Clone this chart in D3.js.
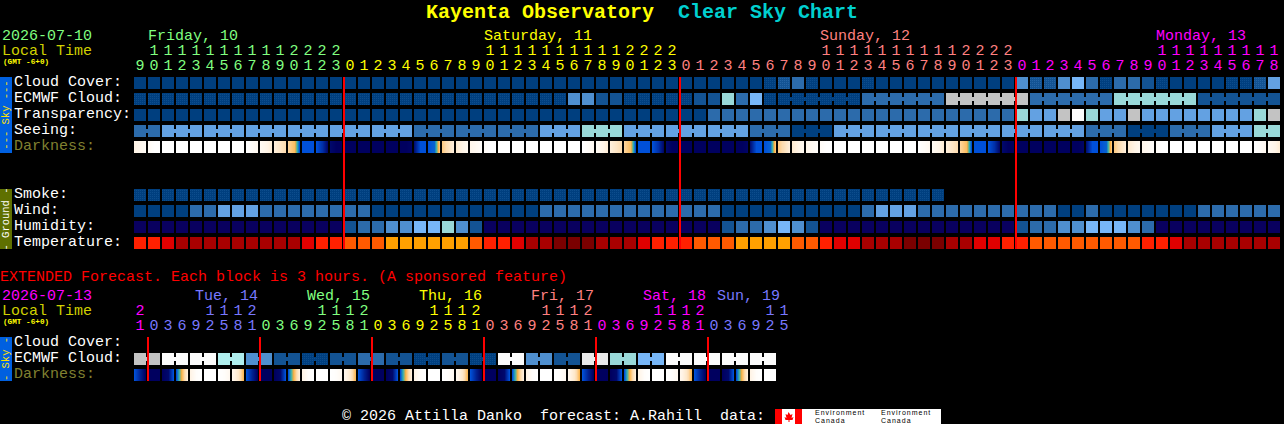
<!DOCTYPE html>
<html>
<head>
<meta charset="utf-8">
<script src="https://cdn.jsdelivr.net/npm/d3@7"></script>
<style>
html, body { margin: 0; padding: 0; background: #000; overflow: hidden; }
text { font-family: "Liberation Mono", monospace; white-space: pre; }
</style>
</head>
<body>
<div id="chart"></div>
<script>
// Hours under each column.
var hours = [9,10,11,12,13,14,15,16,17,18,19,20,21,22,23,
    0,1,2,3,4,5,6,7,8,9,10,11,12,13,14,15,16,17,18,19,20,21,22,23,
    0,1,2,3,4,5,6,7,8,9,10,11,12,13,14,15,16,17,18,19,20,21,22,23,
    0,1,2,3,4,5,6,7,8,9,10,11,12,13,14,15,16,17,18];
var hourDays = [0,0,0,0,0,0,0,0,0,0,0,0,0,0,0,
    1,1,1,1,1,1,1,1,1,1,1,1,1,1,1,1,1,1,1,1,1,1,1,1,
    2,2,2,2,2,2,2,2,2,2,2,2,2,2,2,2,2,2,2,2,2,2,2,2,
    3,3,3,3,3,3,3,3,3,3,3,3,3,3,3,3,3,3,3];
var dayNames = ['Friday, 10', 'Saturday, 11', 'Sunday, 12', 'Monday, 13'];
var dayCols = [1, 25, 49, 73];
var dayColors = ['#80ff80', '#ffff00', '#ff8080', '#ff00ff'];
var midnightCols = [15, 39, 63];

var extHours = [21,0,3,6,9,12,15,18,21,0,3,6,9,12,15,18,21,0,3,6,9,12,15,18,21,
    0,3,6,9,12,15,18,21,0,3,6,9,12,15,18,21,0,3,6,9,12,15];
var extDays = [0,1,1,1,1,1,1,1,1,2,2,2,2,2,2,2,2,3,3,3,3,3,3,3,3,
    4,4,4,4,4,4,4,4,5,5,5,5,5,5,5,5,6,6,6,6,6,6];
var extDayNames = ['', 'Tue, 14', 'Wed, 15', 'Thu, 16', 'Fri, 17', 'Sat, 18', 'Sun, 19'];
var extDayCols = [0, 4.36, 12.36, 20.36, 28.36, 36.36, 41.64];
var extDayColors = ['#ff00ff', '#7878ff', '#80ff80', '#ffff00', '#ff8080', '#ff00ff', '#7878ff'];
var extMidnightCols = [1, 9, 17, 25, 33, 41];

// Levels index into skyColors, .5 is a dither of two neighbours.
var cloudCover = [0,0,0,0,0,0,0,0,0,0,0,0,0,0,0,
    0,0,0,0,0,0,0,0,0,0,0,0,0,0,0,0,0,0,0,0,0,0,0,0,
    0,0,0,0,0,0,.5,1.5,2,.5,0,0,0,.5,0,0,0,0,0,0,0,0,0,0,
    3,1.5,1.5,3,5,2,.5,2,2,1,.5,0,0,0,0,.5,.5,1.5,4];
var ecmwfCloud = [.5,.5,.5,.5,.5,.5,.5,.5,.5,.5,.5,.5,.5,.5,.5,
    .5,.5,.5,.5,.5,.5,.5,.5,.5,.5,.5,.5,.5,.5,.5,.5,3,3,1,1,.5,.5,.5,.5,
    .5,1,1,6,2,5,.5,.5,.5,.5,.5,.5,.5,2,2,2,2,2,2,8,8,8,8,8,8,
    2,2,2,2,2,2,6,6,6,6,6,6,1,1,1,1,1,1];
var transparency = [0,0,0,0,0,0,0,0,0,0,0,0,0,0,0,
    0,0,0,0,0,0,0,0,0,0,0,0,0,0,0,0,0,0,0,0,0,0,0,0,
    0,0,2,2,2,2,2,2,2,2,2,2,2,2,2,2,2,2,2,2,2,2,2,2,
    6,4,4,8,10,6,4,4,8,4,4,4,4,4,4,4,4,6,8];
var seeing = [2,2,4,4,4,4,4,4,4,4,4,4,4,4,4,
    4,4,4,4,4,2,2,2,2,2,2,2,2,2,4,4,4,6,6,6,4,4,4,4,
    4,4,4,4,4,2,2,2,0,0,0,4,4,4,4,4,4,4,4,4,4,4,4,4,
    4,4,4,4,4,2,2,2,0,0,0,2,2,2,4,4,4,6,6];
var smoke = [.5,.5,.5,.5,.5,.5,.5,.5,.5,.5,.5,.5,.5,.5,.5,
    .5,.5,.5,.5,.5,.5,.5,.5,.5,.5,.5,.5,.5,.5,.5,.5,.5,.5,.5,.5,.5,.5,.5,.5,
    .5,.5,.5,.5,.5,.5,.5,.5,.5,.5,.5,.5,.5,.5,.5,.5,.5,.5,.5];
var wind = [0,0,0,0,2,2,4,4,4,2,2,2,2,2,2,
    2,2,0,0,0,0,0,0,0,0,0,0,0,0,2,2,2,2,2,2,2,2,2,2,
    2,2,2,0,0,0,0,0,0,0,0,0,0,2,4,4,4,2,2,2,2,2,2,2,
    2,2,2,0,0,2,0,0,0,0,0,0,0,2,2,2,2,2,2];
var humidity = [-1,-1,-1,-1,-1,-1,-1,-1,-1,-1,-1,-1,-1,-1,-1,
    1,2,2,3,3,5,5,6,3,1,-1,-1,-1,-1,-1,-1,-1,-1,-1,-1,-1,-1,-1,-1,
    -1,-1,-1,1,2,2,3,5,3,1,-1,-1,-1,-1,-1,-1,-1,-1,-1,-1,-1,-1,-1,-1,
    1,2,2,3,3,5,5,5,3,2,-1,-1,-1,-1,-1,-1,-1,-1,-1];
var temperature = [3,3,2,1,1,1,1,1,1,1,1,1,2,3,3,
    4,4,4,5,5,5,5,5,5,4,3,3,2,1,1,0,0,0,1,1,1,2,3,3,
    3,4,4,4,5,5,5,5,4,4,3,2,2,1,1,1,0,0,0,1,1,2,2,3,
    3,4,4,4,4,4,4,4,4,3,3,2,1,1,1,1,1,1,1];

// Daylight at the start, middle and end of each block.
var darkness = [
    [5,5.3,5.6],[5.6,6,6],[6,6,6],[6,6,6],[6,6,6],[6,6,6],[6,6,6],[6,6,6],
    [6,5.7,5.4],[5.5,5.1,4.7],[4.8,4.4,4],[3.8,3.3,1],[1,1,1],[1,.6,.1],[.1,0,0],
    [0,0,0],[0,0,0],[0,0,0],[0,0,0],[0,0,.05],[.2,1,1],[1,1.2,3.5],[3.6,4.2,4.8],[4.6,5,5.4],
    [5.2,5.5,5.8],[5.7,6,6],[6,6,6],[6,6,6],[6,6,6],[6,6,6],[6,6,6],[6,6,6],
    [6,5.7,5.4],[5.5,5.1,4.7],[4.8,4.4,4],[3.8,3.3,1],[1,1,1],[1,.6,.1],[.1,0,0],
    [0,0,0],[0,0,0],[0,0,0],[0,0,0],[0,0,.05],[.2,1,1],[1,1.2,3.5],[3.6,4.2,4.8],[4.6,5,5.4],
    [5.2,5.5,5.8],[5.7,6,6],[6,6,6],[6,6,6],[6,6,6],[6,6,6],[6,6,6],[6,6,6],
    [6,5.7,5.4],[5.5,5.1,4.7],[4.8,4.4,4],[3.8,3.3,1],[1,1,1],[1,.6,.1],[.1,0,0],
    [0,0,0],[0,0,0],[0,0,0],[0,0,0],[0,0,.05],[.2,1,1],[1,1.2,3.5],[3.6,4.2,4.8],[4.6,5,5.4],
    [5.2,5.5,5.8],[5.7,6,6],[6,6,6],[6,6,6],[6,6,6],[6,6,6],[6,6,6],[6,6,6],
    [6,5.7,5.4],[5.5,5.1,4.7]
];
var extCloud = [8,8,10,10,10,10,7,7,3,3,1,1,.5,.5,1,1,2,2,1,1,.5,.5,1,1,.5,.5,
    10,10,3,3,1,1,9,9,6,6,5,5,10,10,10,10,10,10,10,10];
var extDarkness = [
    [1,.4,0],[0,0,0],[0,.1,1],[1,3.3,4.8],[5,5.8,6],[6,6,6],[6,5.8,5.4],[5.2,4.5,3.2],
    [1,.4,0],[0,0,0],[0,.1,1],[1,3.3,4.8],[5,5.8,6],[6,6,6],[6,5.8,5.4],[5.2,4.5,3.2],
    [1,.4,0],[0,0,0],[0,.1,1],[1,3.3,4.8],[5,5.8,6],[6,6,6],[6,5.8,5.4],[5.2,4.5,3.2],
    [1,.4,0],[0,0,0],[0,.1,1],[1,3.3,4.8],[5,5.8,6],[6,6,6],[6,5.8,5.4],[5.2,4.5,3.2],
    [1,.4,0],[0,0,0],[0,.1,1],[1,3.3,4.8],[5,5.8,6],[6,6,6],[6,5.8,5.4],[5.2,4.5,3.2],
    [1,.4,0],[0,0,0],[0,.1,1],[1,3.3,4.8],[5,5.8,6],[6,6,6]
];

var skyColors = ['#003f7f', '#135393', '#2c6bab', '#4f8fcf', '#63a1e2', '#77b6f7',
    '#99d8d8', '#afeeee', '#c3c3c3', '#e9e9e9', '#fbfbfb'];
var humidityNone = '#09005f';
var temperatureColors = ['#7a0000', '#a80000', '#e00000', '#ff2000', '#ff5a00', '#ffa000'];
var daylightColors = ['#00005f', '#0050d8', '#30b0b0', '#fcb040', '#fddcb0', '#fff4e6', '#ffffff'];

var width = 1284, height = 424;
var cell = 14, block = 12;

var svg = d3.select('#chart').append('svg')
    .attr('width', width)
    .attr('height', height)
    .style('display', 'block');
var defs = svg.append('defs');

var x = d3.scaleLinear().domain([0, 1]).range([134, 134 + cell]);
var daylight = d3.scaleLinear().domain([0, 1, 2, 3, 4, 5, 6]).range(daylightColors);
var tempColor = d3.scaleOrdinal().domain(d3.range(6)).range(temperatureColors);

// Dot pattern for in-between levels.
function dither(level) {
    var id = 'dither' + String(level).replace('.', '_');
    if (defs.select('#' + id).empty()) {
        var low = skyColors[Math.floor(level)];
        var high = skyColors[Math.ceil(level)];
        var p = defs.append('pattern')
            .attr('id', id)
            .attr('width', 2)
            .attr('height', 2)
            .attr('patternUnits', 'userSpaceOnUse');
        p.append('rect').attr('width', 2).attr('height', 2).attr('fill', low);
        p.append('rect').attr('width', 1).attr('height', 1).attr('fill', d3.interpolateRgb(low, high)(0.7));
    }
    return 'url(#' + id + ')';
}

function skyFill(level) {
    if (level < 0) return humidityNone;
    return level % 1 ? dither(level) : skyColors[level];
}

// One row of blocks. joined(i) says if block i connects to block i + 1.
function drawRow(values, top, fill, joined) {
    var g = svg.append('g').attr('shape-rendering', 'crispEdges');
    g.selectAll('rect.block')
        .data(values)
        .enter()
        .append('rect')
        .attr('class', 'block')
        .attr('x', function(d, i) { return x(i); })
        .attr('y', top)
        .attr('width', block)
        .attr('height', block)
        .attr('fill', fill);
    if (!joined) return;
    values.forEach(function(d, i) {
        if (i < values.length - 1 && joined(i)) {
            g.append('rect')
                .attr('class', 'joint')
                .attr('x', x(i) + block)
                .attr('y', top + 4)
                .attr('width', cell - block)
                .attr('height', block - 8)
                .attr('fill', fill(d));
        }
    });
}

// Darkness blocks change colour along their width.
function drawDarkness(values, top) {
    var g = svg.append('g').attr('shape-rendering', 'crispEdges');
    var px = d3.scaleLinear().domain([0, 6, 11]);
    values.forEach(function(d, i) {
        var level = px.copy().range(d);
        d3.range(block).forEach(function(p) {
            g.append('rect')
                .attr('x', x(i) + p)
                .attr('y', top)
                .attr('width', 1)
                .attr('height', block)
                .attr('fill', daylight(level(p)));
        });
    });
}

function label(txt, px, py, color, size, weight) {
    return svg.append('text')
        .attr('x', px)
        .attr('y', py)
        .attr('fill', color)
        .attr('font-size', size || 15)
        .attr('font-weight', weight || 'normal')
        .text(txt);
}

function drawHours(list, days, colors, tensY, unitsY) {
    list.forEach(function(h, i) {
        var color = colors[days[i]];
        if (h >= 10) {
            label(Math.floor(h / 10), x(i) + block / 2, tensY, color).attr('text-anchor', 'middle');
        }
        label(h % 10, x(i) + block / 2, unitsY, color).attr('text-anchor', 'middle');
    });
}

function sideBar(top, h, color, textColor, txt) {
    svg.append('rect')
        .attr('x', 0).attr('y', top)
        .attr('width', 12).attr('height', h)
        .attr('fill', color);
    svg.append('text')
        .attr('transform', 'translate(9,' + (top + h / 2) + ') rotate(-90)')
        .attr('text-anchor', 'middle')
        .attr('fill', textColor)
        .attr('font-size', 10.5)
        .text(txt);
}

function redLines(cols, top, bottom) {
    svg.selectAll(null)
        .data(cols)
        .enter()
        .append('rect')
        .attr('x', function(d) { return x(d) - 1; })
        .attr('y', top)
        .attr('width', 2)
        .attr('height', bottom - top)
        .attr('fill', '#ff0000');
}

// Title.
label('Kayenta Observatory', 426, 18, '#ffff00', 20, 'bold');
label('Clear Sky Chart', 678, 18, '#00d0d0', 20, 'bold');

// Main header.
label('2026-07-10', 2, 40, '#80ff80');
label('Local Time', 2, 55, '#d0d000');
label('(GMT -6+0)', 3, 64, '#ffff00', 7.7, 'bold');
dayNames.forEach(function(d, i) {
    label(d, x(dayCols[i]), 40, dayColors[i]);
});
drawHours(hours, hourDays, dayColors, 55, 70);

// Main rows.
var rowLabels = ['Cloud Cover:', 'ECMWF Cloud:', 'Transparency:', 'Seeing:', 'Darkness:'];
var groundLabels = ['Smoke:', 'Wind:', 'Humidity:', 'Temperature:'];
rowLabels.forEach(function(d, i) {
    label(d, 14, 86 + i * 16, i === 4 ? '#808030' : '#ffffff');
});
groundLabels.forEach(function(d, i) {
    label(d, 14, 198 + i * 16, '#ffffff');
});

drawRow(cloudCover, 77, skyFill);
drawRow(ecmwfCloud, 93, skyFill, function(i) { return i >= 46 && (i - 45) % 6 !== 0; });
drawRow(transparency, 109, skyFill);
drawRow(seeing, 125, skyFill, function(i) { return (i - 1) % 3 !== 0; });
drawDarkness(darkness, 141);
drawRow(smoke, 189, skyFill);
drawRow(wind, 205, skyFill);
drawRow(humidity, 221, skyFill);
drawRow(temperature, 237, function(d) { return tempColor(d); });
redLines(midnightCols, 77, 249);

sideBar(77, 76, '#0060e0', '#ffe000', '--- Sky ---');
sideBar(189, 60, '#5f7000', '#ffffff', '- Ground -');

// Extended forecast.
label('EXTENDED Forecast. Each block is 3 hours. (A sponsored feature)', 0, 281, '#ff0000');
label('2026-07-13', 2, 300, '#ff00ff');
label('Local Time', 2, 315, '#d0d000');
label('(GMT -6+0)', 3, 324, '#ffff00', 7.7, 'bold');
extDayNames.forEach(function(d, i) {
    if (d) label(d, x(extDayCols[i]), 300, extDayColors[i]);
});
drawHours(extHours, extDays, extDayColors, 315, 330);

['Cloud Cover:', 'ECMWF Cloud:', 'Darkness:'].forEach(function(d, i) {
    label(d, 14, 346 + i * 16, i === 2 ? '#808030' : '#ffffff');
});
drawRow(extCloud, 353, skyFill, function(i) { return i % 2 === 0; });
drawDarkness(extDarkness, 369);
redLines(extMidnightCols, 337, 381);
sideBar(337, 44, '#0060e0', '#ffe000', '- Sky -');

// Footer.
label('\u00a9 2026 Attilla Danko  forecast: A.Rahill  data:', 342, 420, '#ffffff');
var logo = svg.append('g').attr('transform', 'translate(775,409)');
logo.append('rect').attr('width', 166).attr('height', 15).attr('fill', '#ffffff');
logo.append('rect').attr('width', 7).attr('height', 15).attr('fill', '#ff0000');
logo.append('rect').attr('x', 20).attr('width', 7).attr('height', 15).attr('fill', '#ff0000');
logo.append('path').attr('d', 'M13.5 3l2 3 2-1-1 4 2-1-1 3h-3v2h-1v-2h-3l-1-3 2 1-1-4 2 1z').attr('fill', '#ff0000');
[40, 106].forEach(function(d) {
    logo.append('text').attr('x', d).attr('y', 6).attr('font-size', 7).attr('letter-spacing', 1).attr('fill', '#000').style('font-family', '"Liberation Sans"').text('Environment');
    logo.append('text').attr('x', d).attr('y', 14).attr('font-size', 7).attr('letter-spacing', 1).attr('fill', '#000').style('font-family', '"Liberation Sans"').text('Canada');
});
</script>
</body>
</html>
